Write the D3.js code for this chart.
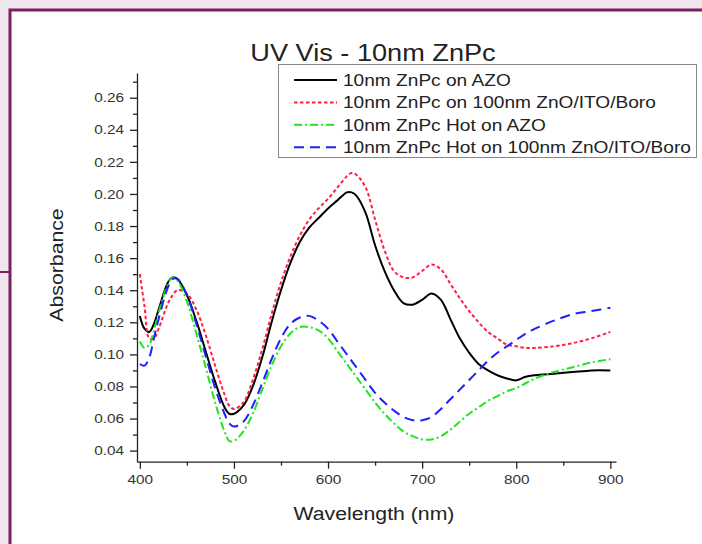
<!DOCTYPE html>
<html>
<head>
<meta charset="utf-8">
<script src="https://cdn.jsdelivr.net/npm/d3@7"></script>
<style>
  html, body { margin: 0; padding: 0; background: #efe5ec; }
  svg { display: block; }
  text { font-family: Arial, "Liberation Sans", sans-serif; }
</style>
</head>
<body>
<svg id="chart" width="702" height="544"></svg>
<script>
// wavelength grid (nm) shared by all four spectra
const wavelengths = [400, 405, 410, 415, 420, 430, 435, 440, 450, 460, 470, 480, 490, 495, 500,
  510, 520, 530, 540, 550, 560, 570, 580, 590, 600, 610, 620, 625, 630, 640, 650, 660, 670, 680,
  690, 700, 710, 720, 730, 740, 750, 760, 770, 780, 790, 800, 810, 820, 840, 860, 880, 900];

const azo = [0.124, 0.116, 0.114, 0.119, 0.128, 0.145, 0.148, 0.147, 0.137, 0.121, 0.102, 0.083, 0.067, 0.063, 0.063,
  0.068, 0.080, 0.098, 0.120, 0.140, 0.157, 0.170, 0.179, 0.185, 0.191, 0.196, 0.201, 0.201, 0.199, 0.188, 0.168, 0.152, 0.140, 0.132,
  0.131, 0.134, 0.138, 0.134, 0.122, 0.110, 0.101, 0.094, 0.090, 0.087, 0.085, 0.0838, 0.086, 0.087, 0.088, 0.089, 0.090, 0.090];

const znoIto = [0.150, 0.130, 0.110, 0.110, 0.116, 0.132, 0.137, 0.140, 0.138, 0.128, 0.112, 0.093, 0.075, 0.068, 0.066,
  0.070, 0.084, 0.103, 0.125, 0.145, 0.161, 0.174, 0.184, 0.191, 0.197, 0.204, 0.211, 0.213, 0.212, 0.204, 0.184, 0.165, 0.152, 0.148,
  0.148, 0.152, 0.156, 0.153, 0.144, 0.135, 0.127, 0.120, 0.114, 0.110, 0.106, 0.105, 0.104, 0.104, 0.105, 0.107, 0.110, 0.114];

const hotAzo = [0.108, 0.104, 0.106, 0.115, 0.126, 0.144, 0.148, 0.146, 0.133, 0.113, 0.092, 0.070, 0.052, 0.046, 0.046,
  0.052, 0.063, 0.078, 0.093, 0.105, 0.113, 0.117, 0.117, 0.115, 0.110, 0.102, 0.094, 0.090, 0.086, 0.078, 0.070, 0.063, 0.057, 0.052,
  0.049, 0.047, 0.047, 0.049, 0.053, 0.058, 0.063, 0.067, 0.071, 0.074, 0.077, 0.079, 0.082, 0.085, 0.089, 0.092, 0.095, 0.097];

const hotZnoIto = [0.094, 0.093, 0.098, 0.110, 0.122, 0.142, 0.147, 0.147, 0.137, 0.119, 0.099, 0.079, 0.063, 0.057, 0.055,
  0.058, 0.068, 0.082, 0.097, 0.110, 0.119, 0.123, 0.124, 0.121, 0.116, 0.108, 0.100, 0.096, 0.092, 0.084, 0.076, 0.070, 0.065, 0.061,
  0.059, 0.059, 0.061, 0.066, 0.072, 0.078, 0.084, 0.090, 0.096, 0.101, 0.105, 0.109, 0.113, 0.116, 0.121, 0.125, 0.127, 0.129];

const seriesNames = ['10nm ZnPc on AZO', '10nm ZnPc on 100nm ZnO/ITO/Boro',
  '10nm ZnPc Hot on AZO', '10nm ZnPc Hot on 100nm ZnO/ITO/Boro'];

const xTicks = [400, 500, 600, 700, 800, 900];
const xMinor = [450, 550, 650, 750, 850];
const yTicks = [0.04, 0.06, 0.08, 0.10, 0.12, 0.14, 0.16, 0.18, 0.20, 0.22, 0.24, 0.26];
const yMinor = [0.05, 0.07, 0.09, 0.11, 0.13, 0.15, 0.17, 0.19, 0.21, 0.23, 0.25, 0.27];

const styles = [
  { color: '#000000', dash: null, width: 2 },
  { color: '#ff1f45', dash: '3.5,2.5', width: 2 },
  { color: '#1fe51f', dash: '8,3,2,3', width: 2 },
  { color: '#1f1fff', dash: '10,6', width: 2 }
];

const svg = d3.select('#chart');
const stretch = 1.18; // the original font renders wider than Arial

function widen(sel) {
  sel.each(function () {
    const w = this.getComputedTextLength();
    d3.select(this).attr('textLength', w * stretch).attr('lengthAdjust', 'spacingAndGlyphs');
  });
}

// page frame
svg.append('rect').attr('x', 0).attr('y', 0).attr('width', 702).attr('height', 544).attr('fill', '#efe5ec');
svg.append('rect').attr('x', 10).attr('y', 10).attr('width', 720).attr('height', 560)
  .attr('fill', '#fff').attr('stroke', '#7b1f5f').attr('stroke-width', 3);
svg.append('line').attr('x1', 0).attr('x2', 9).attr('y1', 272).attr('y2', 272)
  .attr('stroke', '#7b1f5f').attr('stroke-width', 2);

const x = d3.scaleLinear().domain([397, 906]).range([137, 616]);
const y = d3.scaleLinear().domain([0.0331, 0.2754]).range([461.7, 73]);

// axes
svg.append('g').attr('transform', 'translate(0,461.7)')
  .call(d3.axisBottom(x).tickValues(xTicks).tickSize(7).tickSizeOuter(0).tickPadding(6).tickFormat(d3.format('d')));
svg.append('g').attr('transform', 'translate(0,461.7)')
  .call(d3.axisBottom(x).tickValues(xMinor).tickSize(4).tickSizeOuter(0).tickFormat(''))
  .select('.domain').remove();

svg.append('g').attr('transform', 'translate(137,0)')
  .call(d3.axisLeft(y).tickValues(yTicks).tickSize(7).tickSizeOuter(0).tickPadding(6).tickFormat(d3.format('.2f')));
svg.append('g').attr('transform', 'translate(137,0)')
  .call(d3.axisLeft(y).tickValues(yMinor).tickSize(4).tickSizeOuter(0).tickFormat(''))
  .select('.domain').remove();

svg.selectAll('.domain').attr('stroke', '#222').attr('stroke-width', 1.3);
svg.selectAll('.tick line').attr('stroke', '#222').attr('stroke-width', 1.3);
svg.selectAll('.tick text').attr('font-size', 13).attr('fill', '#333').attr('font-family', 'Arial, "Liberation Sans", sans-serif').call(widen);

// curves
const allSeries = [azo, znoIto, hotAzo, hotZnoIto];
const line = d3.line().x(d => x(d[0])).y(d => y(d[1])).curve(d3.curveCatmullRom.alpha(0.5));
svg.append('g').selectAll('path').data(allSeries).enter().append('path')
  .attr('d', vals => line(wavelengths.map((w, i) => [w, vals[i]])))
  .attr('fill', 'none')
  .attr('stroke', (d, i) => styles[i].color)
  .attr('stroke-width', (d, i) => styles[i].width)
  .attr('stroke-dasharray', (d, i) => styles[i].dash);

// titles
svg.append('text').attr('x', 373).attr('y', 61).attr('text-anchor', 'middle')
  .attr('font-size', 23).attr('fill', '#222').text('UV Vis - 10nm ZnPc').call(widen);
svg.append('text').attr('x', 374).attr('y', 520).attr('text-anchor', 'middle')
  .attr('font-size', 18).attr('fill', '#222').text('Wavelength (nm)').call(widen);
svg.append('text').attr('transform', 'translate(63,265) rotate(-90)').attr('text-anchor', 'middle')
  .attr('font-size', 18).attr('fill', '#222').text('Absorbance').call(widen);

// legend
const legend = svg.append('g');
legend.append('rect').attr('x', 278.5).attr('y', 64.5).attr('width', 418).attr('height', 93)
  .attr('fill', '#fff').attr('stroke', '#888').attr('stroke-width', 1);
const rows = legend.selectAll('g.row').data(seriesNames).enter().append('g')
  .attr('transform', (d, i) => `translate(0,${80 + i * 22.4})`);
rows.append('line').attr('x1', 294).attr('x2', 337).attr('y1', 0).attr('y2', 0)
  .attr('stroke', (d, i) => styles[i].color)
  .attr('stroke-width', (d, i) => styles[i].width)
  .attr('stroke-dasharray', (d, i) => styles[i].dash);
rows.append('text').attr('x', 343).attr('y', 6).attr('font-size', 16.2).attr('fill', '#222')
  .text(d => d).call(widen);
</script>
</body>
</html>
